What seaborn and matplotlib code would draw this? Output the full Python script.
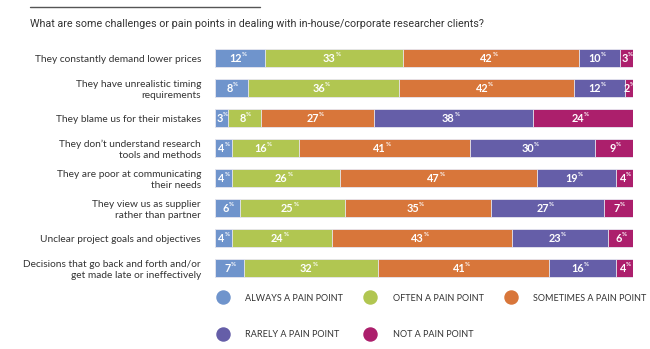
import numpy as np
import pandas as pd
import seaborn as sns
import matplotlib
matplotlib.use("Agg")
import matplotlib.pyplot as plt
from matplotlib.lines import Line2D

# Survey statements (rows, top to bottom)
statements = [
    "They constantly demand lower prices",
    "They have unrealistic timing\nrequirements",
    "They blame us for their mistakes",
    "They don\u2019t understand research\ntools and methods",
    "They are poor at communicating\ntheir needs",
    "They view us as supplier\nrather than partner",
    "Unclear project goals and objectives",
    "Decisions that go back and forth and/or\nget made late or ineffectively",
]

# Response categories
responses = [
    "ALWAYS A PAIN POINT",
    "OFTEN A PAIN POINT",
    "SOMETIMES A PAIN POINT",
    "RARELY A PAIN POINT",
    "NOT A PAIN POINT",
]

# Percentages per response category, one value per statement
always = [12, 8, 3, 4, 4, 6, 4, 7]
often = [33, 36, 8, 16, 26, 25, 24, 32]
sometimes = [42, 42, 27, 41, 47, 35, 43, 41]
rarely = [10, 12, 38, 30, 19, 27, 23, 16]
never = [3, 2, 24, 9, 4, 7, 6, 4]

colors = ["#6f94cc", "#b1c651", "#d8763a", "#655ea8", "#ac1f6c"]

series = [always, often, sometimes, rarely, never]
df = pd.DataFrame({name: vals for name, vals in zip(responses, series)})
df["statement"] = statements
cum = df[responses].cumsum(axis=1)
cum["statement"] = statements

sns.set_theme(style="white")
plt.rcParams["font.family"] = ["Lato", "DejaVu Sans"]

fig = plt.figure(figsize=(6.5, 3.49), dpi=100)
W, H = 650, 349
ax = fig.add_axes([215 / W, 1 - 283 / H, (633 - 215) / W, (283 - 43) / H])

# Stacked bars: draw cumulative totals from the widest down so each overlays the next
for name, col in reversed(list(zip(responses, colors))):
    sns.barplot(data=cum, x=name, y="statement", orient="h", color=col,
                width=0.6, saturation=1, edgecolor="#e9e9f2", linewidth=0.6,
                ax=ax)

ax.set_xlim(0, 100)
ax.set_ylim(7.5, -0.5)
ax.set_xlabel("")
ax.set_ylabel("")
ax.set_xticks([])
ax.set_yticks(range(len(statements)))
ax.set_yticklabels(statements, fontsize=7.3, color="#333333", linespacing=1.25)
ax.tick_params(axis="y", length=0, pad=10)
for s in ax.spines.values():
    s.set_visible(False)

# Value labels centred in each segment, with a small raised percent sign
for i in range(len(statements)):
    left = 0
    for name in responses:
        v = df.loc[i, name]
        cx = left + v / 2
        ax.annotate(f"{v}", xy=(cx, i), xytext=(1.0, 0), textcoords="offset points",
                    ha="right", va="center", color="white", fontsize=7.8,
                    fontweight="bold")
        ax.annotate("%", xy=(cx, i), xytext=(1.0, 2.2), textcoords="offset points",
                    ha="left", va="center", color="white", fontsize=4.4,
                    fontweight="bold")
        left += v

# Heading rule and question
fig.add_artist(Line2D([30 / W, 260 / W], [1 - 7 / H, 1 - 7 / H],
                      color="#555555", lw=1.0))
fig.text(30 / W, 1 - 24 / H, "What are some challenges or pain points in dealing with in-house/corporate researcher clients?",
         ha="left", va="center", fontsize=7.75, color="#333333",
         family=["Roboto", "DejaVu Sans"])

# Legend: two rows, three columns
handles = [Line2D([], [], marker="o", linestyle="none", markersize=9.4,
                  markerfacecolor=c, markeredgecolor=c, label=r)
           for r, c in zip(responses, colors)]
order = [0, 3, 1, 4, 2]
fig.legend([handles[k] for k in order], [responses[k] for k in order],
           ncol=3, loc="center left", bbox_to_anchor=(218 / W, 1 - 316.5 / H),
           frameon=False, fontsize=6.5, labelcolor="#333333",
           handletextpad=2.0, columnspacing=2.5, labelspacing=3.1,
           handlelength=1.0, borderaxespad=0, borderpad=0)

fig.savefig("out.png", dpi=100)
